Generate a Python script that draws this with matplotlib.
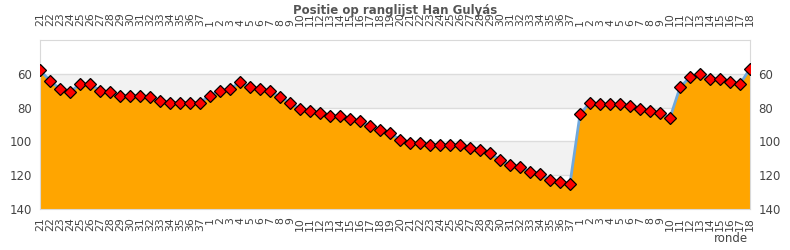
import matplotlib.pyplot as plt
import matplotlib.transforms as mtransforms
import numpy as np

# rondes: seizoen 1 (21-37), seizoen 2 (1-37), seizoen 3 (1-18)
rondes = (
    [str(r) for r in range(21, 38)]
    + [str(r) for r in range(1, 38)]
    + [str(r) for r in range(1, 19)]
)
positie = [
    58, 64, 69, 71, 66, 66, 70, 71, 73, 73, 73, 74, 76, 77, 77, 77, 77,
    73, 70, 69, 65, 68, 69, 70, 74, 77, 81, 82, 83, 85, 85, 87, 88, 91,
    93, 95, 99, 101, 101, 102, 102, 102, 102, 104, 105, 107, 111, 114, 115,
    118, 119, 123, 124, 125,
    84, 77, 78, 78, 78, 79, 81, 82, 83, 86, 68, 62, 60, 63, 63, 65, 66, 57,
]
y_ticks = [60, 80, 100, 120, 140]
bands = [(60, 80), (100, 120)]

plt.rcParams["font.family"] = "DejaVu Sans"
fig = plt.figure(figsize=(7.9, 2.5), dpi=100)
ax = fig.add_axes([0.0506, 0.164, 0.8988, 0.676])

x = np.arange(len(rondes))
for lo, hi in bands:
    ax.axhspan(lo, hi, color="#f2f2f2", zorder=0, linewidth=0)
for t in y_ticks:
    ax.axhline(t, color="#dcdcdc", linewidth=1, zorder=0.5)

ax.fill_between(x, positie, 140, color="#ffa500", linewidth=0, zorder=1)
ax.plot(x, positie, color="#6fa8dc", linewidth=2, zorder=2)
ax.plot(
    x, positie, linestyle="", marker="D", markersize=6,
    markerfacecolor="#ff0000", markeredgecolor="black",
    markeredgewidth=0.9, zorder=3,
)

ax.set_xlim(0, len(rondes) - 1)
ax.set_ylim(140, 40)
ax.set_xticks(x)
ax.set_xticklabels(rondes, rotation=90, fontsize=7.8, color="#444444")
ax.tick_params(axis="x", length=0, top=True, labeltop=True, bottom=True,
               labelbottom=True, pad=6)
ax.set_yticks(y_ticks)
ax.tick_params(axis="y", length=0, left=True, right=True, labelleft=True,
               labelright=True, labelsize=8.5, labelcolor="#444444", pad=6)

for s in ax.spines.values():
    s.set_color("#d9d9d9")

# top labels sit a bit further from the axes
off = mtransforms.ScaledTranslation(0, 4 / 72, fig.dpi_scale_trans)
for tick in ax.xaxis.get_major_ticks():
    tick.label2.set_transform(tick.label2.get_transform() + off)

fig.text(0.5, 0.985, "Positie op ranglijst Han Gulyás", ha="center",
         va="top", fontsize=8.5, fontweight="bold", color="#555555")
fig.text(0.947, 0.02, "ronde", ha="right", va="bottom", fontsize=8.5,
         color="#444444")

fig.savefig("out.png", dpi=100)
